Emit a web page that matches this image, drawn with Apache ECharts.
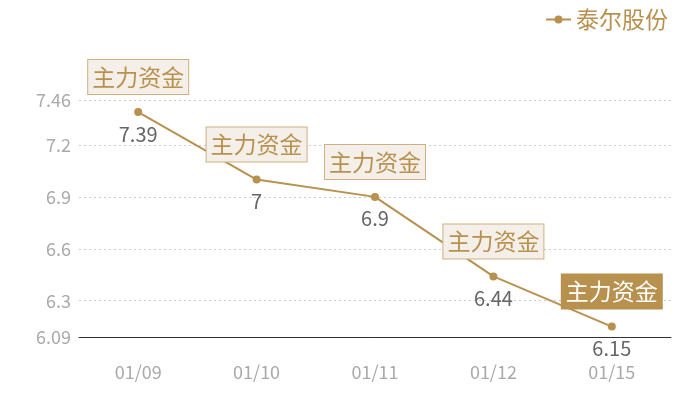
<!DOCTYPE html>
<html><head><meta charset="utf-8">
<script src="https://cdn.jsdelivr.net/npm/echarts@6/dist/echarts.min.js"></script>
<style>html,body{margin:0;padding:0;background:#fff}#c{width:700px;height:400px}</style>
</head><body><div id="c"></div>
<script>
const categories = ['01/09', '01/10', '01/11', '01/12', '01/15'];
const seriesName = '泰尔股份';
const prices = [7.39, 7, 6.9, 6.44, 6.15];
const markText = '主力资金';
const highlightIndex = [4];
const yTicks = [6.09, 6.3, 6.6, 6.9, 7.2, 7.46];
const yMin = 6.09, yMax = 7.46;

const brown = '#b8914f';
const font = '"Noto Sans CJK SC", "Microsoft YaHei", sans-serif';

const markData = prices.map((v, i) => {
  const hi = highlightIndex.includes(i);
  return {
    coord: [i, v],
    value: markText,
    label: {
      backgroundColor: hi ? brown : '#f4efe8',
      borderColor: hi ? brown : '#cfb080',
      color: hi ? '#fff' : brown
    }
  };
});

const chart = echarts.init(document.getElementById('c'));
chart.setOption({
  animation: false,
  textStyle: { fontFamily: font },
  legend: {
    data: [seriesName],
    right: 27, top: 3,
    itemWidth: 25, itemHeight: 10,
    itemGap: 6,
    textStyle: { color: brown, fontSize: 23, fontFamily: font }
  },
  grid: { left: 79, right: 29, top: 100, bottom: 63 },
  xAxis: {
    type: 'category',
    data: categories,
    boundaryGap: true,
    axisLine: { lineStyle: { color: '#333', width: 1 } },
    axisTick: { show: false },
    axisLabel: { color: '#aaa', fontSize: 18, margin: 26, fontFamily: font }
  },
  yAxis: {
    type: 'value',
    min: yMin, max: yMax,
    axisLine: { show: false },
    axisTick: { show: false, customValues: yTicks },
    axisLabel: { color: '#aaa', fontSize: 18, margin: 8, fontFamily: font, customValues: yTicks },
    splitLine: { lineStyle: { color: '#ccc', type: [2, 3] } }
  },
  series: [{
    name: seriesName,
    type: 'line',
    data: prices,
    symbol: 'circle',
    symbolSize: 8,
    itemStyle: { color: brown },
    lineStyle: { color: brown, width: 2 },
    label: { show: true, position: 'bottom', distance: 8, color: '#666', fontSize: 20, fontFamily: font },
    markPoint: {
      symbol: 'circle', symbolSize: 0,
      label: {
        show: true, position: 'inside', offset: [0, -35],
        formatter: p => p.value,
        fontSize: 23, lineHeight: 24, padding: [5, 4],
        borderWidth: 1, fontFamily: font
      },
      data: markData
    }
  }]
});
</script></body></html>
